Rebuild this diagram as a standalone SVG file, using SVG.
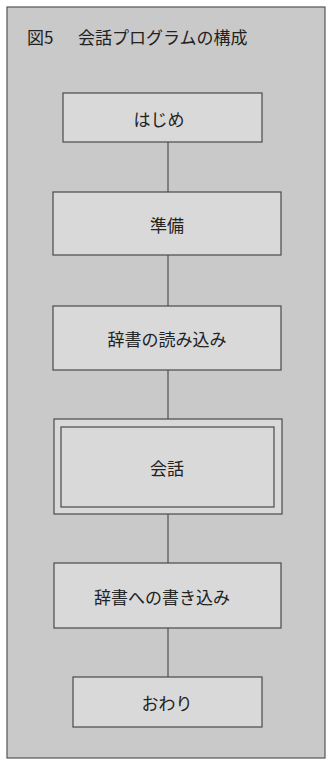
<svg xmlns="http://www.w3.org/2000/svg" width="330" height="760" viewBox="0 0 330 760">
<style>
.bg{fill:#c9c9c9;stroke:#555;stroke-width:1.2}
.box{fill:#d9d9d9;stroke:#4a4a4a;stroke-width:1.2}
.inner{fill:none;stroke:#4a4a4a;stroke-width:1.2}
.lbl{font-family:"Noto Sans CJK JP","Noto Sans",sans-serif;font-size:17px;fill:#222;text-anchor:middle;dominant-baseline:central}
.title{font-family:"Noto Sans CJK JP","Noto Sans",sans-serif;font-size:17px;fill:#222}
.conn{stroke:#444;stroke-width:1.1;fill:none}
</style>
<rect class="bg" x="7" y="7" width="318" height="751"/>
<text class="title" x="27" y="44">図5<tspan x="78">会話プログラムの構成</tspan></text>
<g id="connectors">
<line class="conn" x1="168" y1="142" x2="168" y2="192"/>
<line class="conn" x1="168" y1="255" x2="168" y2="306"/>
<line class="conn" x1="168" y1="370" x2="168" y2="419"/>
<line class="conn" x1="168" y1="514" x2="168" y2="563"/>
<line class="conn" x1="168" y1="628" x2="168" y2="677"/>
</g>
<g id="hajime">
<rect class="box" x="63" y="93" width="199" height="49"/>
<text class="lbl" x="159" y="118">はじめ</text>
</g>
<g id="junbi">
<rect class="box" x="53" y="192" width="228" height="63"/>
<text class="lbl" x="167" y="224">準備</text>
</g>
<g id="yomikomi">
<rect class="box" x="53" y="306" width="228" height="64"/>
<text class="lbl" x="167" y="338">辞書の読み込み</text>
</g>
<g id="kaiwa">
<rect class="box" x="54" y="419" width="228" height="95"/>
<rect class="inner" x="61" y="427" width="213" height="80"/>
<text class="lbl" x="167" y="467">会話</text>
</g>
<g id="kakikomi">
<rect class="box" x="54" y="563" width="227" height="65"/>
<text class="lbl" x="162" y="596">辞書への書き込み</text>
</g>
<g id="owari">
<rect class="box" x="73" y="677" width="189" height="50"/>
<text class="lbl" x="167" y="702">おわり</text>
</g>
</svg>
